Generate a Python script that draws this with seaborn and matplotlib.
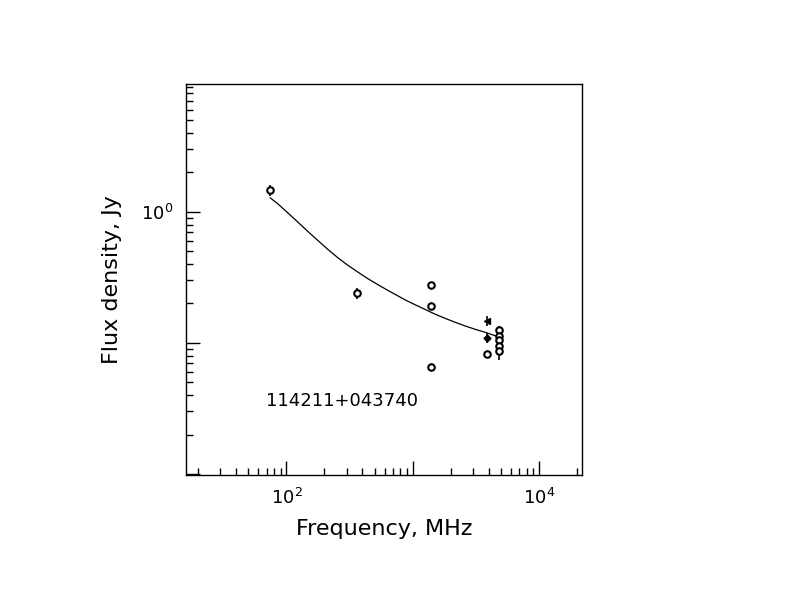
import numpy as np
import pandas as pd
import matplotlib
matplotlib.use("Agg")
import matplotlib.pyplot as plt
import matplotlib.ticker as mticker
import seaborn as sns

# measured points (open circles)
freq_mhz = [74, 365, 1400, 1400, 1400, 3900, 4850, 4850, 4850, 4850, 4850]
flux_jy = [1.46, 0.239, 0.277, 0.191, 0.066, 0.082, 0.126, 0.112, 0.105, 0.094, 0.086]
flux_err = [0.15, 0.022, 0.0, 0.0, 0.0, 0.0, 0.008, 0.008, 0.008, 0.01, 0.012]

# filled markers at 3.9 GHz
tri_freq = [3900]
tri_flux = [0.147]
tri_err = [0.012]
dia_freq = [3900]
dia_flux = [0.109]
dia_err = [0.009]

# fitted spectrum
fit_freq = [74.3, 84.8, 101.8, 122.3, 146.8, 176.2, 211.5, 254, 305, 366, 439.5,
            527, 633, 760, 865, 1038, 1245, 1496, 1795, 2154, 2587, 3104, 3724,
            4083, 4840]
fit_flux = [1.279, 1.157, 0.988, 0.839, 0.712, 0.608, 0.519, 0.448, 0.392, 0.348,
            0.3096, 0.279, 0.252, 0.229, 0.2135, 0.196, 0.1805, 0.1660, 0.1543,
            0.1439, 0.1349, 0.1272, 0.1207, 0.1171, 0.1106]

source_name = "114211+043740"

sns.set_style("ticks")
plt.rcParams["font.family"] = ["DejaVu Sans"]
plt.rcParams["text.color"] = "black"
plt.rcParams["axes.labelcolor"] = "black"

fig = plt.figure(figsize=(7.92, 6.12), dpi=100)
ax = fig.add_axes([186 / 792, 1 - 475 / 612, 396 / 792, 391 / 612])

fit_df = pd.DataFrame({"freq": fit_freq, "flux": fit_flux})
sns.lineplot(data=fit_df, x="freq", y="flux", sort=False, estimator=None,
             color="black", linewidth=0.9, ax=ax)

pts = pd.DataFrame({"freq": freq_mhz, "flux": flux_jy, "err": flux_err})
ax.errorbar(pts["freq"], pts["flux"], yerr=pts["err"], fmt="none",
            ecolor="black", elinewidth=1.2, capsize=0)
sns.scatterplot(data=pts, x="freq", y="flux", marker="o", s=22,
                facecolor="white", edgecolor="black", linewidth=1.5, ax=ax, zorder=3)

ax.errorbar(tri_freq, tri_flux, yerr=tri_err, fmt="<", color="black",
            markersize=4, elinewidth=1.2, capsize=0, zorder=3)
ax.errorbar(dia_freq, dia_flux, yerr=dia_err, fmt="D", color="black",
            markersize=3.5, elinewidth=1.2, capsize=0, zorder=3)

ax.set_xscale("log")
ax.set_yscale("log")
ax.set_xlim(16.0, 21930)
ax.set_ylim(0.00982, 9.44)

ax.xaxis.set_major_locator(mticker.FixedLocator([10, 100, 1000, 10000]))
ax.xaxis.set_major_formatter(mticker.FixedFormatter(["", r"$10^{2}$", "", r"$10^{4}$"]))
ax.yaxis.set_major_locator(mticker.FixedLocator([0.01, 0.1, 1, 10]))
ax.yaxis.set_major_formatter(mticker.FixedFormatter(["", "", r"$10^{0}$", ""]))
ax.xaxis.set_minor_locator(mticker.LogLocator(base=10, subs=np.arange(2, 10)))
ax.yaxis.set_minor_locator(mticker.LogLocator(base=10, subs=np.arange(2, 10)))
ax.xaxis.set_minor_formatter(mticker.NullFormatter())
ax.yaxis.set_minor_formatter(mticker.NullFormatter())

ax.tick_params(which="both", direction="in", top=False, right=False,
               colors="black", labelsize=13, width=1)
ax.tick_params(which="major", length=10, pad=9)
ax.tick_params(which="minor", length=5)
for sp in ax.spines.values():
    sp.set_visible(True)
    sp.set_color("black")
    sp.set_linewidth(1)

ax.set_xlabel("Frequency, MHz", fontsize=16, labelpad=8, color="black")
ax.set_ylabel("Flux density, Jy", fontsize=16, labelpad=14, color="black")

ax.text(0.202, 0.19, source_name, transform=ax.transAxes, ha="left",
        va="center", fontsize=13, color="black")

fig.savefig("out.png", dpi=100, facecolor="white")
